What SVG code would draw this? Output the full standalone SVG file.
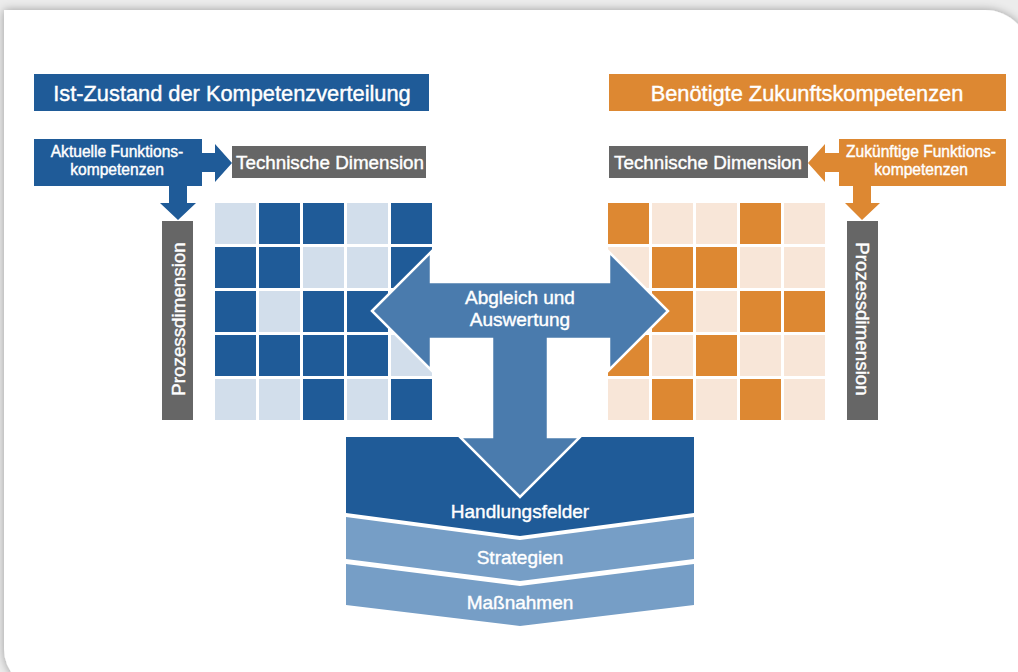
<svg xmlns="http://www.w3.org/2000/svg" width="1018" height="672" viewBox="0 0 1018 672">
  <defs>
    <filter id="cardShadow" x="-5%" y="-5%" width="110%" height="110%">
      <feGaussianBlur in="SourceAlpha" stdDeviation="5"/>
      <feOffset dx="0" dy="0" result="blur"/>
      <feComponentTransfer><feFuncA type="linear" slope="0.35"/></feComponentTransfer>
      <feMerge><feMergeNode/><feMergeNode in="SourceGraphic"/></feMerge>
    </filter>
    <style>
      text { font-family: "Liberation Sans", Arial, sans-serif; fill: #ffffff; stroke: #ffffff; stroke-width: 0.4px; text-anchor: middle; }
      .title { font-size: 21.8px; }
      .dim { font-size: 18.8px; }
      .small { font-size: 15.6px; }
      .mid { font-size: 19px; }
      .blue { fill: #1f5b98; }
      .lblue { fill: #d2deeb; }
      .orange { fill: #dd8832; }
      .lorange { fill: #f8e6d8; }
      .gray { fill: #666666; }
      .center { fill: #4a7bad; stroke: #ffffff; stroke-width: 2.5; stroke-linejoin: miter; }
    </style>
  </defs>

  <!-- page background and card -->
  <rect x="0" y="0" width="1018" height="672" fill="#ececec"/>
  <path d="M4,10 H985 A45,45 0 0 1 1030,55 V690 H45 A41,41 0 0 1 4,649 Z" fill="#ffffff" filter="url(#cardShadow)"/>

  <!-- left side: current state -->
  <g id="title-left">
    <rect x="34" y="74" width="395" height="37" class="blue"/>
    <text x="232" y="101" class="title">Ist-Zustand der Kompetenzverteilung</text>
  </g>

  <g id="current-functions">
    <rect x="34" y="139" width="168" height="47" class="blue"/>
    <text x="117" y="157" class="small">Aktuelle Funktions-</text>
    <text x="117" y="175" class="small">kompetenzen</text>
  </g>

  <g id="tech-dim-left">
    <rect x="232" y="146" width="194" height="32" class="gray"/>
    <text x="330" y="169" class="dim">Technische Dimension</text>
  </g>

  <g id="process-dim-left">
    <rect x="162" y="221" width="31" height="199" class="gray"/>
    <text transform="translate(184.5,319) rotate(-90)" class="dim">Prozessdimension</text>
  </g>

  <g id="grid-left">
    <!-- row 1 -->
    <rect x="215" y="203" width="41" height="41" class="lblue"/>
    <rect x="259" y="203" width="41" height="41" class="blue"/>
    <rect x="303" y="203" width="41" height="41" class="blue"/>
    <rect x="347" y="203" width="41" height="41" class="lblue"/>
    <rect x="391" y="203" width="41" height="41" class="blue"/>
    <!-- row 2 -->
    <rect x="215" y="247" width="41" height="41" class="blue"/>
    <rect x="259" y="247" width="41" height="41" class="blue"/>
    <rect x="303" y="247" width="41" height="41" class="lblue"/>
    <rect x="347" y="247" width="41" height="41" class="lblue"/>
    <rect x="391" y="247" width="41" height="41" class="blue"/>
    <!-- row 3 -->
    <rect x="215" y="291" width="41" height="41" class="blue"/>
    <rect x="259" y="291" width="41" height="41" class="lblue"/>
    <rect x="303" y="291" width="41" height="41" class="blue"/>
    <rect x="347" y="291" width="41" height="41" class="blue"/>
    <rect x="391" y="291" width="41" height="41" class="blue"/>
    <!-- row 4 -->
    <rect x="215" y="335" width="41" height="41" class="blue"/>
    <rect x="259" y="335" width="41" height="41" class="blue"/>
    <rect x="303" y="335" width="41" height="41" class="blue"/>
    <rect x="347" y="335" width="41" height="41" class="blue"/>
    <rect x="391" y="335" width="41" height="41" class="lblue"/>
    <!-- row 5 -->
    <rect x="215" y="379" width="41" height="41" class="lblue"/>
    <rect x="259" y="379" width="41" height="41" class="lblue"/>
    <rect x="303" y="379" width="41" height="41" class="blue"/>
    <rect x="347" y="379" width="41" height="41" class="lblue"/>
    <rect x="391" y="379" width="41" height="41" class="blue"/>
  </g>

  <!-- right side: required future state -->
  <g id="title-right">
    <rect x="609" y="74" width="397" height="37" class="orange"/>
    <text x="807" y="101" class="title">Benötigte Zukunftskompetenzen</text>
  </g>

  <g id="future-functions">
    <rect x="839" y="139" width="167" height="47" class="orange"/>
    <text x="921" y="157" class="small">Zukünftige Funktions-</text>
    <text x="921" y="175" class="small">kompetenzen</text>
  </g>

  <g id="tech-dim-right">
    <rect x="609" y="146" width="199" height="32" class="gray"/>
    <text x="708" y="169" class="dim">Technische Dimension</text>
  </g>

  <g id="process-dim-right">
    <rect x="847" y="221" width="31" height="199" class="gray"/>
    <text transform="translate(855.5,319) rotate(90)" class="dim">Prozessdimension</text>
  </g>

  <g id="grid-right">
    <!-- row 1 -->
    <rect x="608" y="203" width="41" height="41" class="orange"/>
    <rect x="652" y="203" width="41" height="41" class="lorange"/>
    <rect x="696" y="203" width="41" height="41" class="lorange"/>
    <rect x="740" y="203" width="41" height="41" class="orange"/>
    <rect x="784" y="203" width="41" height="41" class="lorange"/>
    <!-- row 2 -->
    <rect x="608" y="247" width="41" height="41" class="lorange"/>
    <rect x="652" y="247" width="41" height="41" class="orange"/>
    <rect x="696" y="247" width="41" height="41" class="orange"/>
    <rect x="740" y="247" width="41" height="41" class="lorange"/>
    <rect x="784" y="247" width="41" height="41" class="lorange"/>
    <!-- row 3 -->
    <rect x="608" y="291" width="41" height="41" class="orange"/>
    <rect x="652" y="291" width="41" height="41" class="orange"/>
    <rect x="696" y="291" width="41" height="41" class="lorange"/>
    <rect x="740" y="291" width="41" height="41" class="orange"/>
    <rect x="784" y="291" width="41" height="41" class="orange"/>
    <!-- row 4 -->
    <rect x="608" y="335" width="41" height="41" class="orange"/>
    <rect x="652" y="335" width="41" height="41" class="lorange"/>
    <rect x="696" y="335" width="41" height="41" class="orange"/>
    <rect x="740" y="335" width="41" height="41" class="lorange"/>
    <rect x="784" y="335" width="41" height="41" class="lorange"/>
    <!-- row 5 -->
    <rect x="608" y="379" width="41" height="41" class="lorange"/>
    <rect x="652" y="379" width="41" height="41" class="orange"/>
    <rect x="696" y="379" width="41" height="41" class="lorange"/>
    <rect x="740" y="379" width="41" height="41" class="orange"/>
    <rect x="784" y="379" width="41" height="41" class="lorange"/>
  </g>

  <!-- result layers -->
  <g id="handlungsfelder">
    <path d="M346,437 H694 V513 L520,536 L346,513 Z" class="blue"/>
    <text x="520" y="518" class="mid">Handlungsfelder</text>
  </g>
  <g id="strategien">
    <path d="M346,517 L520,540 L694,517 V559 L520,581 L346,559 Z" fill="#769ec6"/>
    <text x="520" y="564" class="mid">Strategien</text>
  </g>
  <g id="massnahmen">
    <path d="M346,564 L520,586 L694,564 V605 L520,626 L346,605 Z" fill="#769ec6"/>
    <text x="520" y="609" class="mid">Maßnahmen</text>
  </g>

  <!-- connectors -->
  <g id="connectors">
    <!-- current functions to technical and process dimension -->
    <path d="M202,153 H215 V144 L232,163 L215,182 V172 H202 Z" class="blue"/>
    <path d="M169,186 H187 V203 H196 L178,220 L160,203 H169 Z" class="blue"/>
    <!-- future functions to technical and process dimension -->
    <path d="M839,153 H825 V144 L808,163 L825,182 V172 H839 Z" class="orange"/>
    <path d="M853,186 H871 V203 H880 L862,220 L845,203 H853 Z" class="orange"/>
    <!-- comparison T-arrow -->
    <g id="abgleich">
      <path d="M372,311 L431,252 V282 H609 V252 L668,311 L609,370 V339 H548 V437 H580 L520,497 L460,437 H492 V339 H431 V370 Z" class="center"/>
      <text x="520" y="304" class="mid">Abgleich und</text>
      <text x="520" y="326" class="mid">Auswertung</text>
    </g>
  </g>
</svg>
